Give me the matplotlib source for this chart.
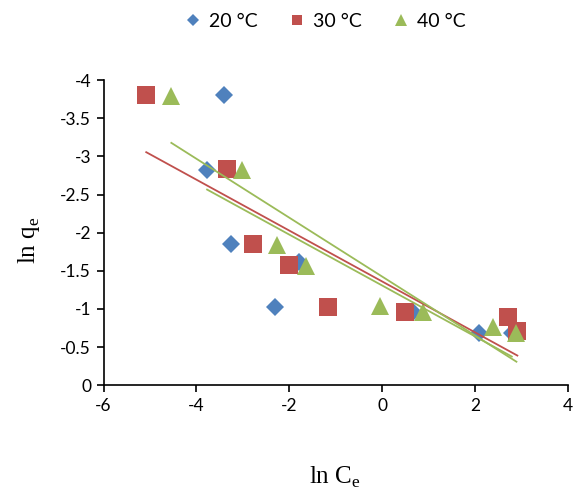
import numpy as np
import matplotlib
matplotlib.use("Agg")
import matplotlib.pyplot as plt
from matplotlib.lines import Line2D
from matplotlib.ticker import FuncFormatter

# ln Ce / ln qe
x20 = [-3.40, -3.77, -3.25, -1.79, -2.30, 0.67, 2.08, 2.79]
y20 = [-3.81, -2.82, -1.85, -1.62, -1.02, -0.96, -0.69, -0.68]
x30 = [-5.08, -3.34, -2.78, -2.01, -1.17, 0.49, 2.71, 2.91]
y30 = [-3.80, -2.83, -1.85, -1.57, -1.03, -0.96, -0.89, -0.71]
x40 = [-4.54, -3.01, -2.26, -1.65, -0.05, 0.88, 2.39, 2.89]
y40 = [-3.79, -2.82, -1.84, -1.56, -1.04, -0.96, -0.76, -0.69]
labels = ["20 °C", "30 °C", "40 °C"]

BLUE, RED, GREEN = "#4F81BD", "#C0504D", "#9BBB59"
FONT = ["Lato", "DejaVu Sans"]
plt.rcParams["axes.unicode_minus"] = False

fig = plt.figure(figsize=(5.76, 4.91), dpi=100)
ax = fig.add_axes([0.1797, 0.2153, 0.8064, 0.6217])

series = [
    (x20, y20, BLUE, "D", 9.0, GREEN),   # trendline of 20 °C is drawn green in the original
    (x30, y30, RED, "s", 13.5, RED),
    (x40, y40, GREEN, "^", 13.0, GREEN),
]
for xs, ys, col, mk, ms, tcol in series:
    ax.plot(xs, ys, linestyle="none", marker=mk, markersize=ms,
            color=col, markeredgewidth=0, zorder=3)

# linear trendlines over each series' x range
for xs, ys, col, mk, ms, tcol in series:
    xs = np.asarray(xs); ys = np.asarray(ys)
    k, b = np.polyfit(xs, ys, 1)
    xx = np.array([xs.min(), xs.max()])
    ax.plot(xx, k * xx + b, color=tcol, linewidth=1.3, zorder=4)

ax.set_xlim(-6, 4)
ax.set_ylim(0, -4)
ax.set_xticks(np.arange(-6, 5, 2))
ax.set_yticks(np.arange(0, -4.01, -0.5))
ax.yaxis.set_major_formatter(FuncFormatter(lambda v, p: f"{v:g}"))
ax.xaxis.set_major_formatter(FuncFormatter(lambda v, p: f"{v:g}"))

for s in ["top", "right"]:
    ax.spines[s].set_visible(False)
for s in ["left", "bottom"]:
    ax.spines[s].set_linewidth(1.2)
    ax.spines[s].set_color("black")
ax.tick_params(direction="out", length=5, width=1.2, labelsize=12.5, pad=4)
for t in ax.get_xticklabels() + ax.get_yticklabels():
    t.set_family(FONT)

fig.text(0.050, 0.51, r"ln q$_{\mathregular{e}}$", rotation=90, ha="center", va="center",
         family="Liberation Serif", fontsize=18)
fig.text(0.582, 0.028, r"ln C$_{\mathregular{e}}$", ha="center", va="center",
         family="Liberation Serif", fontsize=18)

# legend handles with Excel-like equal marker sizes
leg_sizes = [5.8, 7.8, 8.5]
handles = [Line2D([], [], linestyle="none", marker=mk, markersize=sz, color=col,
                  markeredgewidth=0, label=lab)
           for (xs, ys, col, mk, ms, tcol), sz, lab in zip(series, leg_sizes, labels)]
fig.legend(handles=handles, loc="center", bbox_to_anchor=(0.565, 0.956), ncol=3,
           frameon=False, handlelength=0.8, handletextpad=0.45,
           columnspacing=1.6, prop={"family": FONT, "size": 14})

fig.savefig("out.png", dpi=100)
